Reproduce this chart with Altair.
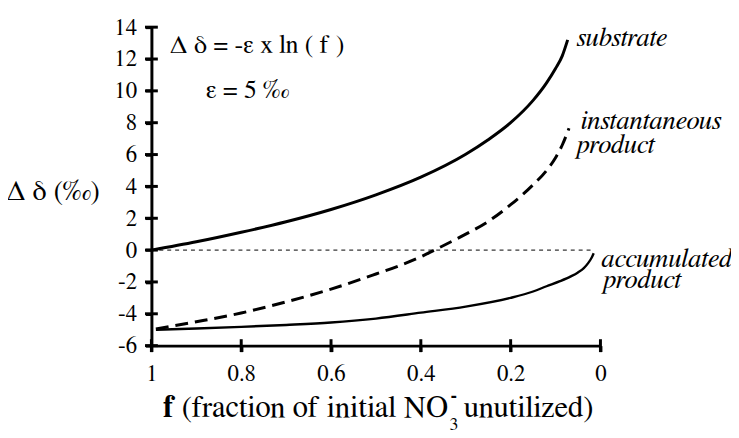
import altair as alt
import pandas as pd

# ---- data ----
f_sub = [1.0, 0.9, 0.8, 0.7, 0.6, 0.5, 0.4, 0.3, 0.25, 0.2, 0.15, 0.12, 0.1, 0.085, 0.073]
substrate = [0.0, 0.52, 1.12, 1.78, 2.55, 3.47, 4.58, 6.02, 6.93, 8.0, 9.4, 10.5, 11.4, 12.2, 13.2]

f_inst = [0.99, 0.9, 0.8, 0.7, 0.6, 0.5, 0.45, 0.4, 0.37, 0.3, 0.25, 0.2, 0.15, 0.12, 0.1, 0.085, 0.07]
instantaneous = [-4.95, -4.5, -3.95, -3.25, -2.45, -1.5, -1.0, -0.42, 0.0, 1.0, 1.8, 2.85, 4.1, 5.0, 5.8, 6.6, 7.65]

f_acc = [0.99, 0.9, 0.8, 0.7, 0.6, 0.5, 0.4, 0.3, 0.2, 0.15, 0.12, 0.09, 0.066, 0.05, 0.037, 0.027, 0.02, 0.015]
accumulated = [-5.0, -4.92, -4.82, -4.7, -4.55, -4.3, -3.93, -3.55, -3.0, -2.6, -2.27, -1.95, -1.65, -1.4, -1.13, -0.8, -0.5, -0.2]

zero_f = [1.0, 0.015]
zero_d = [0.0, 0.0]

x_ticks = [1, 0.8, 0.6, 0.4, 0.2, 0]
y_ticks = [-6, -4, -2, 0, 2, 4, 6, 8, 10, 12, 14]

FONT = "FreeSerif"

x_scale = alt.Scale(domain=[0, 1], reverse=True, nice=False, zero=False)
y_scale = alt.Scale(domain=[-6, 14], nice=False, zero=False)

x_axis = alt.Axis(values=x_ticks, labelExpr="'' + datum.value", title=None, grid=False,
                  domainWidth=3, domainColor="black", tickColor="black", tickWidth=3,
                  tickSize=6, labelFont=FONT, labelFontSize=23, labelColor="black",
                  labelPadding=11, labelFlush=False)
y_axis = alt.Axis(values=y_ticks,
                  labelExpr="datum.value < 0 ? '-' + abs(datum.value) : '' + datum.value",
                  title=None, grid=False, domainWidth=3, domainColor="black",
                  tickColor="black", tickWidth=3, tickSize=6, labelFont=FONT,
                  labelFontSize=23, labelColor="black", labelPadding=9, labelFlush=False)

X = alt.X("f:Q", scale=x_scale, axis=x_axis)
Y = alt.Y("d:Q", scale=y_scale, axis=y_axis)

df_sub = pd.DataFrame({"f": f_sub, "d": substrate})
df_inst = pd.DataFrame({"f": f_inst, "d": instantaneous})
df_acc = pd.DataFrame({"f": f_acc, "d": accumulated})
df_zero = pd.DataFrame({"f": zero_f, "d": zero_d})

zero_line = alt.Chart(df_zero).mark_line(color="black", strokeWidth=1, strokeDash=[4, 4]).encode(x=X, y=Y)
sub_line = alt.Chart(df_sub).mark_line(color="black", strokeWidth=3, interpolate="monotone").encode(x=X, y=Y)
inst_line = alt.Chart(df_inst).mark_line(color="black", strokeWidth=3, strokeDash=[13, 7], interpolate="monotone").encode(x=X, y=Y)
acc_line = alt.Chart(df_acc).mark_line(color="black", strokeWidth=2.4, interpolate="monotone").encode(x=X, y=Y)

# axis ticks that cross the axis line
df_yt = pd.DataFrame({"f": [1.0] * len(y_ticks), "d": y_ticks})
df_xt = pd.DataFrame({"f": x_ticks, "d": [-6] * len(x_ticks)})
y_tick_marks = alt.Chart(df_yt).mark_tick(orient="horizontal", size=13, thickness=3, color="black", opacity=1).encode(x=X, y=Y)
x_tick_marks = alt.Chart(df_xt).mark_tick(orient="vertical", size=13, thickness=3, color="black", opacity=1).encode(x=X, y=Y)

# ---- text ----
lab_text = ["substrate", "instantaneous", "product", "accumulated", "product"]
lab_f = [0.053, 0.044, 0.053, -0.002, -0.006]
lab_d = [12.82, 7.6, 6.1, -1.04, -2.41]
df_lab = pd.DataFrame({"f": lab_f, "d": lab_d, "t": lab_text})
labels = alt.Chart(df_lab).mark_text(align="left", baseline="alphabetic", font=FONT,
                                     fontSize=27, fontStyle="italic", color="black").encode(x=X, y=Y, text="t:N")

ann_text = ["Δ δ = -ε x ln ( f )", "ε = 5 ‰"]
ann_f = [0.958, 0.879]
ann_d = [12.35, 9.55]
df_ann = pd.DataFrame({"f": ann_f, "d": ann_d, "t": ann_text})
anns = alt.Chart(df_ann).mark_text(align="left", baseline="alphabetic", font=FONT,
                                   fontSize=26, color="black").encode(x=X, y=Y, text="t:N")

df_yt_title = pd.DataFrame({"f": [1.3216], "d": [3.12], "t": ["Δ δ (‰)"]})
y_title = alt.Chart(df_yt_title).mark_text(align="left", baseline="alphabetic", font=FONT,
                                           fontSize=28, color="black").encode(x=X, y=Y, text="t:N")

# x-axis title pieces
TB = -10.5
df_tf = pd.DataFrame({"f": [0.974], "d": [TB], "t": ["f"]})
t_f = alt.Chart(df_tf).mark_text(align="left", baseline="alphabetic", font=FONT, fontSize=31,
                                 fontWeight="bold", color="black").encode(x=X, y=Y, text="t:N")
df_t1 = pd.DataFrame({"f": [0.339], "d": [TB], "t": ["(fraction of initial NO"]})
t_1 = alt.Chart(df_t1).mark_text(align="right", baseline="alphabetic", font=FONT, fontSize=31,
                                 color="black").encode(x=X, y=Y, text="t:N")
df_t2 = pd.DataFrame({"f": [0.0154], "d": [TB], "t": ["unutilized)"]})
t_2 = alt.Chart(df_t2).mark_text(align="right", baseline="alphabetic", font=FONT, fontSize=31,
                                 color="black").encode(x=X, y=Y, text="t:N")
df_t3 = pd.DataFrame({"f": [0.336], "d": [-11.3], "t": ["3"]})
t_3 = alt.Chart(df_t3).mark_text(align="left", baseline="alphabetic", font=FONT, fontSize=18,
                                 color="black").encode(x=X, y=Y, text="t:N")
df_t4 = pd.DataFrame({"f": [0.334], "d": [-9.1], "t": ["-"]})
t_4 = alt.Chart(df_t4).mark_text(align="left", baseline="middle", font=FONT, fontSize=20,
                                 fontWeight="bold", color="black").encode(x=X, y=Y, text="t:N")

chart = alt.layer(
    zero_line, acc_line, inst_line, sub_line, y_tick_marks, x_tick_marks,
    labels, anns, y_title, t_f, t_1, t_2, t_3, t_4
).properties(
    width=454, height=322,
    autosize=alt.AutoSizeParams(type="none"),
    padding={"left": 145, "top": 17, "right": 132, "bottom": 91},
    background="white",
).configure_view(stroke=None)

chart.save("out.html", embed_options={"renderer": "svg", "actions": False})
